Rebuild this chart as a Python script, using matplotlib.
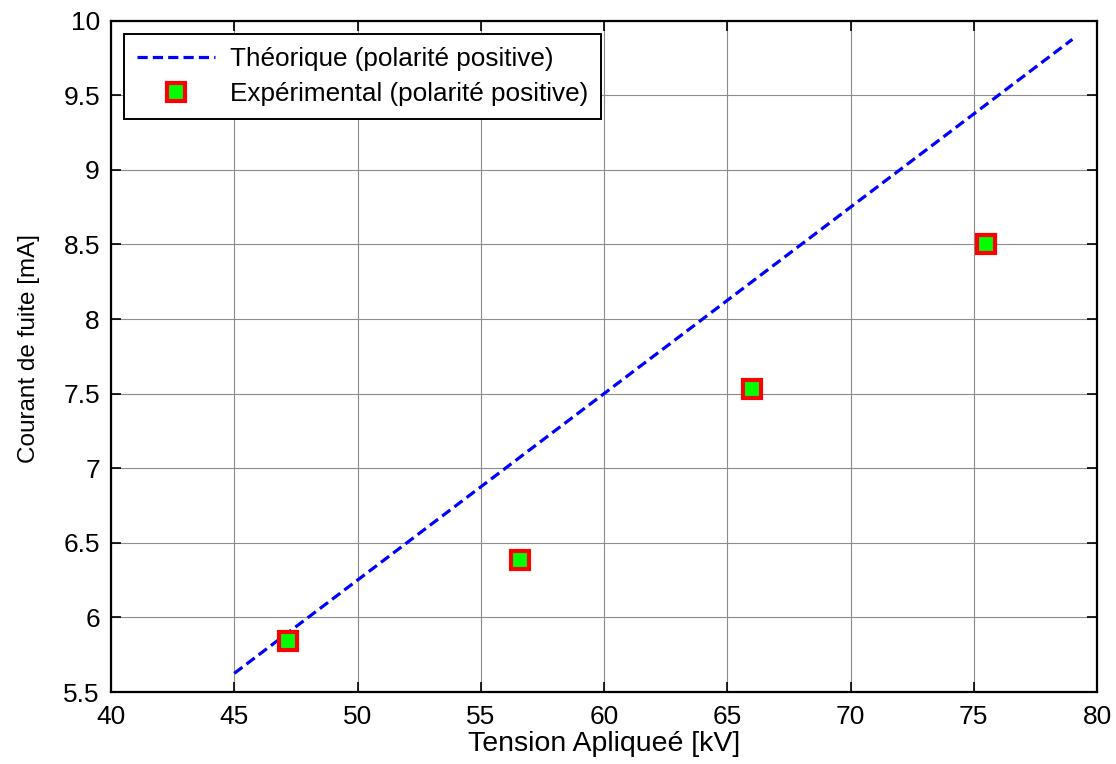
import matplotlib
matplotlib.use("Agg")
import matplotlib.pyplot as plt

# Data
theo_x = [45, 79]
theo_y = [5.625, 9.875]
exp_x = [47.2, 56.6, 66.0, 75.5]
exp_y = [5.84, 6.385, 7.53, 8.50]
xticks = [40, 45, 50, 55, 60, 65, 70, 75, 80]
yticks = [5.5, 6, 6.5, 7, 7.5, 8, 8.5, 9, 9.5, 10]
ytick_labels = ["5.5", "6", "6.5", "7", "7.5", "8", "8.5", "9", "9.5", "10"]

plt.rcParams['font.family'] = ['Liberation Sans', 'DejaVu Sans']

fig = plt.figure(figsize=(11.16, 7.64), dpi=100)
ax = fig.add_axes([111/1116, 1 - 692/764, (1097-111)/1116, (692-20.7)/764])

ax.plot(theo_x, theo_y, color='#0000ff', linestyle=(0, (3.2, 1.6)), linewidth=2.3,
        label='Théorique (polarité positive)')
ax.plot(exp_x, exp_y, linestyle='none', marker='s', markersize=13,
        markerfacecolor='#00ff00', markeredgecolor='#ff0000', markeredgewidth=3,
        label='Expérimental (polarité positive)')

ax.set_xlim(40, 80)
ax.set_ylim(5.5, 10)
ax.set_xticks(xticks)
ax.set_yticks(yticks)
ax.set_yticklabels(ytick_labels)
ax.grid(True, color='#8c8c8c', linewidth=0.8)
ax.tick_params(direction='in', top=True, right=True, length=7, width=1.2,
               labelsize=19)
ax.tick_params(axis='x', pad=9)
ax.tick_params(axis='y', pad=8)
for s in ax.spines.values():
    s.set_linewidth(1.6)

ax.set_xlabel('Tension Apliqueé [kV]', fontsize=20.5, labelpad=2)
ax.set_ylabel('Courant de fuite [mA]', fontsize=17.5)
ax.yaxis.set_label_coords(-0.072, 0.511)

leg = ax.legend(loc='upper left', bbox_to_anchor=(13/986, 1 - 13/671), fontsize=18.8,
                fancybox=False, framealpha=1, edgecolor='black',
                handlelength=3.0, handletextpad=0.55, borderaxespad=0,
                borderpad=0.5, labelspacing=0.42)
leg.get_frame().set_linewidth(1.4)

fig.savefig('out.png', dpi=100)
